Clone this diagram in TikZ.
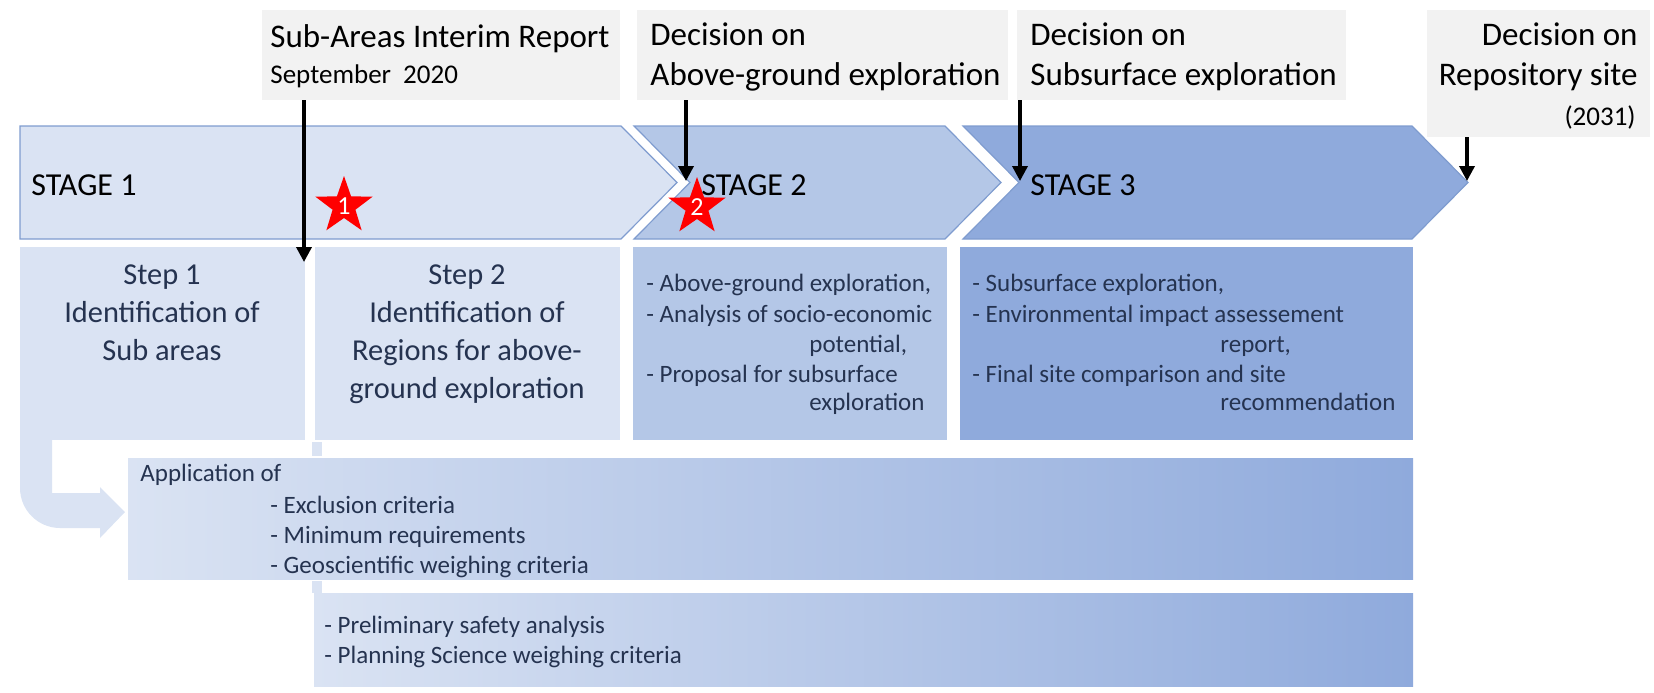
\documentclass[tikz,border=0pt]{standalone}
\usepackage{fontspec}
\setmainfont{Carlito}
\usetikzlibrary{arrows.meta,shapes.geometric,fit}
\definecolor{cA}{HTML}{DAE3F3}
\definecolor{cB}{HTML}{B4C7E7}
\definecolor{cC}{HTML}{8FAADC}
\definecolor{edgeblue}{HTML}{7F9CCF}
\definecolor{lblgray}{HTML}{F2F2F2}
\definecolor{txt}{HTML}{253350}
\newcommand{\fLbl}{\fontsize{16.5pt}{20pt}\selectfont}
\newcommand{\fSmall}{\fontsize{13.5pt}{16pt}\selectfont}
\newcommand{\fStage}{\fontsize{16pt}{19pt}\selectfont}
\newcommand{\fStep}{\fontsize{15.2pt}{19pt}\selectfont}
\newcommand{\fList}{\fontsize{12.5pt}{15pt}\selectfont}
\begin{document}
\begin{tikzpicture}[x=0.5pt,y=-0.5pt,
  lblbox/.style={fill=lblgray, draw=none, inner sep=0pt},
  flatbox/.style={draw=none, inner sep=0pt},
  chev/.style={draw=edgeblue, line width=0.6pt},
  arr/.style={draw=black, line width=1.75pt, -{Triangle[length=7.5pt,width=7.5pt]}},
  lt/.style={anchor=base west, inner sep=0pt, font=\fLbl, text=black},
  rt/.style={anchor=base east, inner sep=0pt, font=\fLbl, text=black},
  stg/.style={anchor=base west, inner sep=0pt, font=\fStage, text=black},
  stp/.style={anchor=base, inner sep=0pt, font=\fStep, text=txt},
  lst/.style={anchor=base west, inner sep=0pt, font=\fList, text=txt},
  redstar/.style={star, star points=5, star point ratio=2.5, fill=red, draw=none,
     minimum size=30pt, inner sep=0pt, text=white, font=\fontsize{13pt}{13pt}\selectfont}
]
\useasboundingbox (0,0) rectangle (1654,692);

% top label boxes
\node[lblbox, fit={(262,10)(620,100)}] (L1) {};
\node[lblbox, fit={(637,10)(1008,100)}] (L2) {};
\node[lblbox, fit={(1017,10)(1346,100)}] (L3) {};
\node[lblbox, fit={(1427,10)(1650,137)}] (L4) {};

\node[lt] (l1a) at (270,47) {Sub-Areas Interim Report};
\node[lt, font=\fSmall] (l1b) at (270,83) {September\hspace{0.45em}2020};
\node[lt] (l2a) at (650,45) {Decision on};
\node[lt] (l2b) at (650,85) {Above-ground exploration};
\node[lt] (l3a) at (1030,45) {Decision on};
\node[lt] (l3b) at (1030,85) {Subsurface exploration};
\node[rt] (l4a) at (1638,45) {Decision on};
\node[rt] (l4b) at (1638,85) {Repository site};
\node[rt, font=\fSmall] (l4c) at (1636,125) {(2031)};

% chevrons
\fill[cA] (20,126) -- (621,126) -- (677,182.5) -- (621,239) -- (20,239) -- cycle;
\draw[chev] (20,126) -- (621,126) -- (677,182.5) -- (621,239) -- (20,239) -- cycle;
\fill[cB] (634,126) -- (945,126) -- (1001,182.5) -- (945,239) -- (634,239) -- (690,182.5) -- cycle;
\draw[chev] (634,126) -- (945,126) -- (1001,182.5) -- (945,239) -- (634,239) -- (690,182.5) -- cycle;
\fill[cC] (963,126) -- (1412,126) -- (1468,182.5) -- (1412,239) -- (963,239) -- (1019,182.5) -- cycle;
\draw[chev] (963,126) -- (1412,126) -- (1468,182.5) -- (1412,239) -- (963,239) -- (1019,182.5) -- cycle;

\node[stg] (st1) at (31,195) {STAGE 1};
\node[stg] (st2) at (701,195) {STAGE 2};
\node[stg] (st3) at (1030,195) {STAGE 3};

% step / stage boxes
\node[flatbox, fill=cA, fit={(20,247)(305,440)}] (S1) {};
\node[flatbox, fill=cA, fit={(315,247)(620,440)}] (S2) {};
\node[flatbox, fill=cB, fit={(633,247)(947,440)}] (B2) {};
\node[flatbox, fill=cC, fit={(960,247)(1413,440)}] (B3) {};

\node[stp] (s1a) at (162,284) {Step 1};
\node[stp] (s1b) at (162,322) {Identification of};
\node[stp] (s1c) at (162,360) {Sub areas};
\node[stp] (s2a) at (467,284) {Step 2};
\node[stp] (s2b) at (467,322) {Identification of};
\node[stp] (s2c) at (467,360) {Regions for above-};
\node[stp] (s2d) at (467,398) {ground exploration};

\node[lst] (b2a) at (646,291) {- Above-ground exploration,};
\node[lst] (b2b) at (646,322) {- Analysis of socio-economic};
\node[lst] (b2c) at (809,352) {potential,};
\node[lst] (b2d) at (646,382) {- Proposal for subsurface};
\node[lst] (b2e) at (809,410) {exploration};

\node[lst] (b3a) at (972,291) {- Subsurface exploration,};
\node[lst] (b3b) at (972,322) {- Environmental impact assessement};
\node[lst] (b3c) at (1220,352) {report,};
\node[lst] (b3d) at (972,382) {- Final site comparison and site};
\node[lst] (b3e) at (1220,410) {recommendation};

% small connector strips
\node[flatbox, fill=cA, fit={(312,442)(322,456)}] (k1) {};
\node[flatbox, fill=cA, fit={(312,581)(322,593)}] (k2) {};

% bent arrow from step 1
\fill[cA] (20,440) -- (20,488) .. controls (20,510) and (38,528) .. (60,528) -- (100,528)
  -- (100,538) -- (125,512) -- (100,487) -- (100,493) -- (52,493) -- (52,440) -- cycle;

% gradient boxes
\node[flatbox, left color=cA, right color=cC, fit={(128,458)(1413,579)}] (APP) {};
\node[flatbox, left color=cA, right color=cC, fit={(314,593)(1413,686)}] (PRE) {};

\node[lst] (a0) at (140,481) {Application of};
\node[lst] (a1) at (270,513) {- Exclusion criteria};
\node[lst] (a2) at (270,543) {- Minimum requirements};
\node[lst] (a3) at (270,573) {- Geoscientific weighing criteria};
\node[lst] (p1) at (324,633) {- Preliminary safety analysis};
\node[lst] (p2) at (324,663) {- Planning Science weighing criteria};

% stars
\node[redstar] (star1) at (344,206) {1};
\node[redstar] (star2) at (697,207) {2};

% decision arrows
\coordinate (A1) at (304,262);
\coordinate (A2) at (686,181);
\coordinate (A3) at (1020,181);
\coordinate (A4) at (1467,181);
\draw[arr] (A1 |- L1.south) -- (A1);
\draw[arr] (A2 |- L2.south) -- (A2);
\draw[arr] (A3 |- L3.south) -- (A3);
\draw[arr] (A4 |- L4.south) -- (A4);
\end{tikzpicture}
\end{document}
